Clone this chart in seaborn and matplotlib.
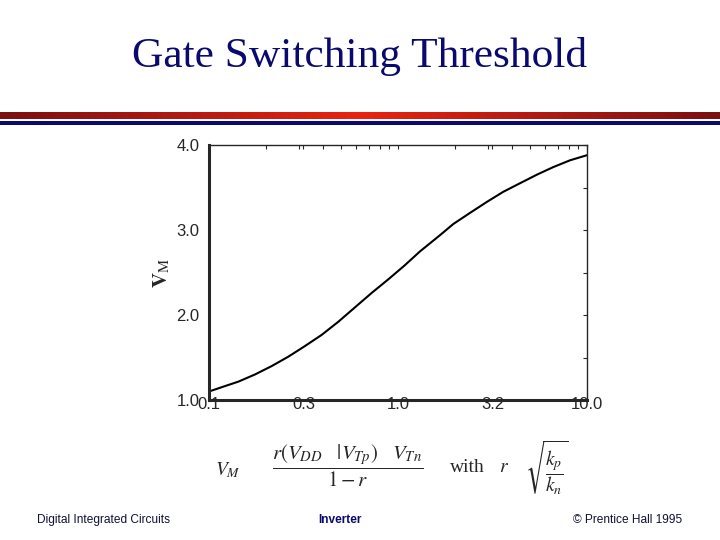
import numpy as np
import pandas as pd
import matplotlib
matplotlib.use('Agg')
import matplotlib.pyplot as plt
import seaborn as sns

# data: switching threshold V_M vs r
r_vals = [0.1, 0.122, 0.143, 0.175, 0.215, 0.263, 0.322, 0.394, 0.483, 0.592,
          0.726, 0.889, 1.08, 1.31, 1.67, 1.96, 2.40, 2.95, 3.61, 4.42,
          5.42, 6.63, 8.13, 10.0]
vm_vals = [1.10, 1.165, 1.216, 1.30, 1.40, 1.51, 1.635, 1.765, 1.92, 2.09,
           2.26, 2.42, 2.58, 2.75, 2.94, 3.07, 3.20, 3.33, 3.45, 3.55,
           3.65, 3.74, 3.82, 3.88]
xtick_pos = [0.1, 0.316, 1.0, 3.16, 10.0]
xtick_labels = ['0.1', '0.3', '1.0', '3.2', '10.0']
ytick_pos = [1.0, 2.0, 3.0, 4.0]
ytick_labels = ['1.0', '2.0', '3.0', '4.0']

df = pd.DataFrame({'r': r_vals, 'VM': vm_vals})

sns.set_style('white')
plt.rcParams['font.family'] = ['Liberation Sans', 'DejaVu Sans']
plt.rcParams['mathtext.fontset'] = 'stix'

fig = plt.figure(figsize=(7.2, 5.4), dpi=100)
navy = '#0a0a6e'

# title
fig.text(0.5, 1 - 57 / 540, 'Gate Switching Threshold', ha='center', va='center',
         family='Liberation Serif', fontsize=31.2, color=navy)

# decorative bands under the title
band = fig.add_axes([0, 1 - 119 / 540, 1, 7 / 540])
grad = np.abs(np.linspace(-1, 1, 400))
band.imshow(grad[None, :], aspect='auto', extent=[0, 1, 0, 1],
            cmap=matplotlib.colors.LinearSegmentedColormap.from_list('rb', ['#e82410', '#7a1010']))
band.axis('off')
blue = fig.add_axes([0, 1 - 125 / 540, 1, 4 / 540])
blue.set_facecolor(navy)
blue.set_xticks([]); blue.set_yticks([])
for s in blue.spines.values():
    s.set_visible(False)

# main plot
ax = fig.add_axes([209 / 720, 1 - 400 / 540, 378 / 720, 255 / 540])
sns.lineplot(data=df, x='r', y='VM', ax=ax, color='black', linewidth=1.5)
ax.set_xscale('log')
ax.set_xlim(0.1, 10)
ax.set_ylim(1.0, 4.0)
ax.set_xticks(xtick_pos)
ax.set_xticklabels(xtick_labels)
ax.set_yticks(ytick_pos)
ax.set_yticklabels(ytick_labels)
ax.set_yticks([1.5, 2.5, 3.5], minor=True)
ax.tick_params(axis='both', which='both', direction='in', top=True, right=True,
               length=3, width=0.8, labelsize=12)
ax.tick_params(axis='x', pad=-2)
ax.tick_params(axis='y', pad=7)
ax.set_xlabel('')
ax.set_ylabel(r'$\mathbf{V}_{\mathrm{M}}$', fontsize=15, labelpad=3)
for side in ['left', 'bottom']:
    ax.spines[side].set_linewidth(2.2)
for side in ['top', 'right']:
    ax.spines[side].set_linewidth(1.0)

# formula below the plot
fs = 14
fig.text(215 / 720, 1 - 470 / 540, r'$V_M$', fontsize=fs, va='center')
fig.text(348 / 720, 1 - 466 / 540,
         r'$\dfrac{r(V_{DD}\quad|V_{Tp})\quad V_{Tn}}{1-r}$',
         fontsize=15, ha='center', va='center')
fig.text(450 / 720, 1 - 468 / 540, 'with', family='Liberation Serif',
         fontsize=fs, va='center')
fig.text(499 / 720, 1 - 468 / 540, r'$r$', fontsize=fs, va='center')
fig.text(525 / 720, 1 - 468 / 540, r'$\sqrt{\dfrac{k_p}{k_n}}$',
         fontsize=fs, va='center')

# footer
fig.text(37 / 720, 1 - 520 / 540, 'Digital Integrated Circuits', fontsize=8.6,
         va='center', color='#10103a')
fig.text(340 / 720, 1 - 520 / 540, 'Inverter', fontsize=8.6, ha='center',
         va='center', color=navy, fontweight='bold')
fig.text(682 / 720, 1 - 520 / 540, '© Prentice Hall 1995', fontsize=8.6,
         ha='right', va='center', color='#10103a')

fig.savefig('out.png', dpi=100)
